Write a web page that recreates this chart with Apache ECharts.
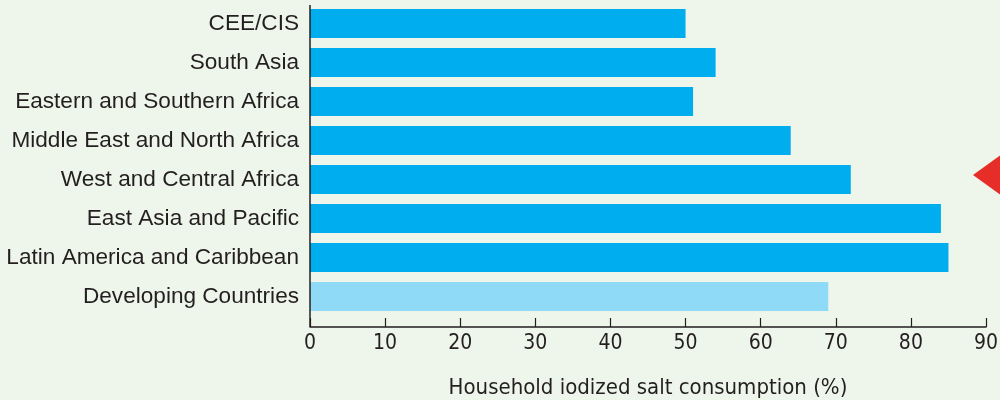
<!DOCTYPE html>
<html>
<head>
<meta charset="utf-8">
<script src="https://cdn.jsdelivr.net/npm/echarts@6/dist/echarts.min.js"></script>
<style>
html,body{margin:0;padding:0;background:#eef5ea;}
#c{width:1000px;height:400px;}
</style>
</head>
<body>
<div id="c"></div>
<script>
const categories = ["CEE/CIS","South Asia","Eastern and Southern Africa","Middle East and North Africa","West and Central Africa","East Asia and Pacific","Latin America and Caribbean","Developing Countries"];
const values = [50, 54, 51, 64, 72, 84, 85, 69];
const highlight = [false, false, false, false, false, false, false, true];
const xTicks = [0, 10, 20, 30, 40, 50, 60, 70, 80, 90];
const axisTitle = "Household iodized salt consumption (%)";

const chart = echarts.init(document.getElementById('c'), null, {renderer:'canvas'});
const textColor = '#231f20';
const condensed = '"DejaVu Sans Condensed", "Liberation Sans Narrow", sans-serif';
chart.setOption({
  backgroundColor: '#eef5ea',
  animation: false,
  grid: {left: 310, right: 14, top: 4, height: 312, containLabel: false, outerBoundsMode: 'none'},
  xAxis: {
    type: 'value', min: xTicks[0], max: xTicks[xTicks.length-1], interval: 10,
    offset: 11,
    axisLine: {show: true, lineStyle: {color: textColor, width: 1.5}},
    axisTick: {show: true, inside: true, length: 9, lineStyle: {color: textColor, width: 1.2}},
    splitLine: {show: false},
    axisLabel: {color: textColor, fontSize: 21, fontFamily: condensed, margin: 6, hideOverlap: false},
    name: axisTitle, nameLocation: 'middle', nameGap: 50,
    nameTextStyle: {color: textColor, fontSize: 22, fontFamily: condensed}
  },
  yAxis: {
    type: 'category', data: categories, inverse: true,
    axisLine: {show: false},
    axisTick: {show: false},
    axisLabel: {color: textColor, fontSize: 22.6, fontFamily: 'Liberation Sans, Arial, sans-serif', margin: 11}
  },
  series: [{
    type: 'bar', barWidth: 29,
    data: values.map((v, i) => ({value: v, itemStyle: {color: highlight[i] ? '#8fdaf7' : '#00aeef'}}))
  }],
  graphic: [
    {type: 'line', shape: {x1: 310, y1: 5, x2: 310, y2: 327}, style: {stroke: textColor, lineWidth: 1.5}, z: 10},
    {type: 'polygon', shape: {points: [[973, 175], [1002, 154], [1002, 196]]}, style: {fill: '#e62d27'}}
  ]
});
</script>
</body>
</html>
